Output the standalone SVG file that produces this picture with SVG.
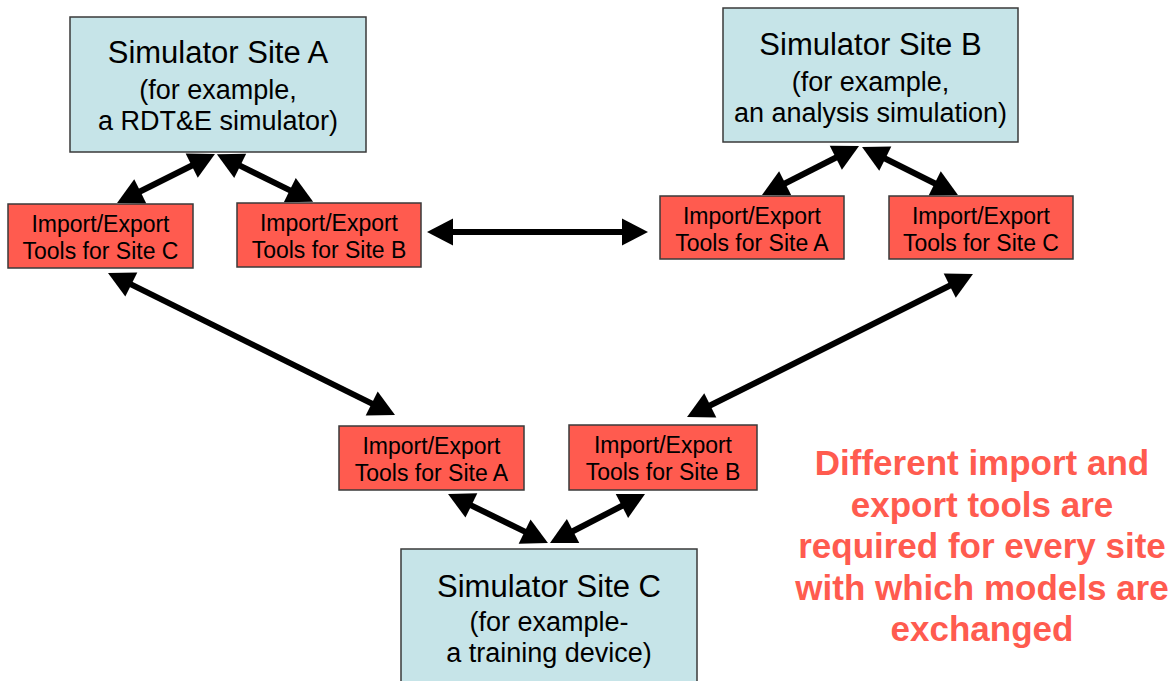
<svg xmlns="http://www.w3.org/2000/svg" width="1173" height="681" viewBox="0 0 1173 681">
  <style>
    .site { fill: #C6E4E8; stroke: #3a3a3a; stroke-width: 1.5; }
    .tool { fill: #FF5B4F; stroke: #3a3a3a; stroke-width: 1.5; }
    .t1 { font-family: "Liberation Sans", Arial, sans-serif; font-size: 31px; fill: #000; text-anchor: middle; }
    .t2 { font-family: "Liberation Sans", Arial, sans-serif; font-size: 27px; fill: #000; text-anchor: middle; }
    .tt { font-family: "Liberation Sans", Arial, sans-serif; font-size: 23px; fill: #000; text-anchor: middle; }
    .note { font-family: "Liberation Sans", Arial, sans-serif; font-size: 35px; font-weight: bold; fill: #FF5B4F; text-anchor: middle; }
    .conn { stroke: #000; stroke-width: 6; fill: none; marker-start: url(#ah); marker-end: url(#ah); }
  </style>
  <defs>
    <marker id="ah" markerUnits="userSpaceOnUse" markerWidth="26" markerHeight="27" refX="2" refY="13.5" orient="auto-start-reverse" overflow="visible">
      <path d="M0,0 L26,13.5 L0,27 z" fill="#000"/>
    </marker>
  </defs>

  <g id="connectors">
    <line class="conn" x1="138.5" y1="192.3" x2="193.5" y2="164.7"/>
    <line class="conn" x1="238.4" y1="164.9" x2="291.6" y2="191.1"/>
    <line class="conn" x1="451" y1="232" x2="624" y2="232"/>
    <line class="conn" x1="783.4" y1="184.2" x2="837.6" y2="156.8"/>
    <line class="conn" x1="883.5" y1="157.7" x2="936.5" y2="184.3"/>
    <line class="conn" x1="129.5" y1="283.6" x2="373.5" y2="404.4"/>
    <line class="conn" x1="708.5" y1="406.3" x2="951.5" y2="284.7"/>
    <line class="conn" x1="469.6" y1="504.6" x2="526.4" y2="532.4"/>
    <line class="conn" x1="571.3" y1="532" x2="623.7" y2="505"/>
  </g>

  <g id="siteA">
    <rect class="site" x="70" y="17" width="296" height="135"/>
    <text class="t1" x="218" y="63">Simulator Site A</text>
    <text class="t2" x="218" y="99">(for example,</text>
    <text class="t2" x="218" y="130">a RDT&amp;E simulator)</text>
  </g>

  <g id="siteB">
    <rect class="site" x="723" y="8" width="295" height="134"/>
    <text class="t1" x="870.5" y="55">Simulator Site B</text>
    <text class="t2" x="870.5" y="91">(for example,</text>
    <text class="t2" x="870.5" y="122">an analysis simulation)</text>
  </g>

  <g id="siteC">
    <rect class="site" x="401" y="549" width="296" height="145"/>
    <text class="t1" x="549" y="597">Simulator Site C</text>
    <text class="t2" x="549" y="631">(for example-</text>
    <text class="t2" x="549" y="662">a training device)</text>
  </g>

  <g id="toolsA_siteC">
    <rect class="tool" x="8" y="204" width="185" height="64"/>
    <text class="tt" x="100.5" y="232">Import/Export</text>
    <text class="tt" x="100.5" y="259">Tools for Site C</text>
  </g>

  <g id="toolsA_siteB">
    <rect class="tool" x="237" y="203" width="184" height="64"/>
    <text class="tt" x="329" y="231">Import/Export</text>
    <text class="tt" x="329" y="258">Tools for Site B</text>
  </g>

  <g id="toolsB_siteA">
    <rect class="tool" x="660" y="196" width="184" height="63"/>
    <text class="tt" x="752" y="224">Import/Export</text>
    <text class="tt" x="752" y="251">Tools for Site A</text>
  </g>

  <g id="toolsB_siteC">
    <rect class="tool" x="889" y="196" width="184" height="63"/>
    <text class="tt" x="981" y="224">Import/Export</text>
    <text class="tt" x="981" y="251">Tools for Site C</text>
  </g>

  <g id="toolsC_siteA">
    <rect class="tool" x="339" y="426" width="185" height="64"/>
    <text class="tt" x="431.5" y="454">Import/Export</text>
    <text class="tt" x="431.5" y="481">Tools for Site A</text>
  </g>

  <g id="toolsC_siteB">
    <rect class="tool" x="569" y="425" width="188" height="65"/>
    <text class="tt" x="663" y="453">Import/Export</text>
    <text class="tt" x="663" y="480">Tools for Site B</text>
  </g>

  <g id="note">
    <text class="note" x="982" y="475">Different import and</text>
    <text class="note" x="982" y="516.5">export tools are</text>
    <text class="note" x="982" y="558">required for every site</text>
    <text class="note" x="982" y="599.5">with which models are</text>
    <text class="note" x="982" y="641">exchanged</text>
  </g>
</svg>
